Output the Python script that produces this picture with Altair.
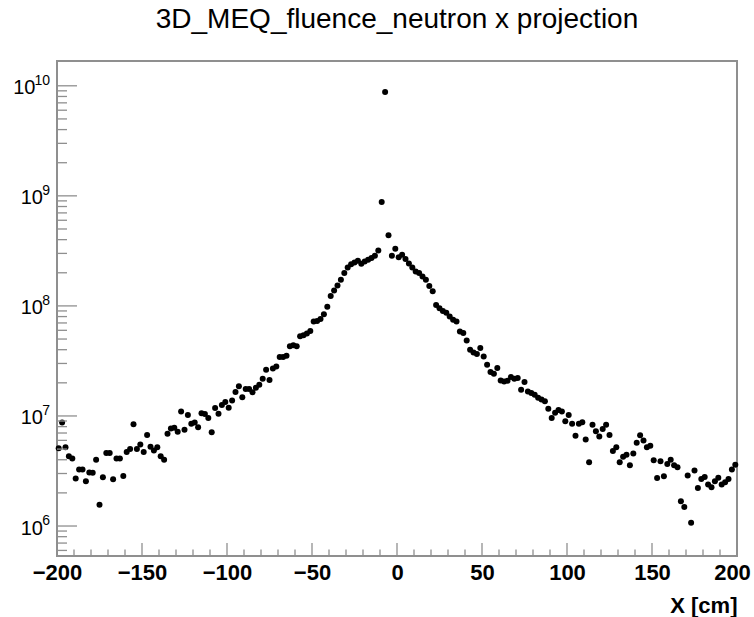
import altair as alt
import pandas as pd

# ---------------- data ----------------
title_text = "3D_MEQ_fluence_neutron x projection"
x_title = "X [cm]"

# 200 bins of 2 cm between -200 and 200 cm (bin centres)
bin_centres = list(range(-199, 200, 2))

fluence = [
    5.1e6, 8.7e6, 5.2e6, 4.3e6, 4.1e6, 2.7e6, 3.26e6, 3.26e6, 2.55e6, 3.07e6,
    3.04e6, 4.0e6, 1.56e6, 2.77e6, 4.6e6, 4.6e6, 2.66e6, 4.1e6, 4.1e6, 2.85e6,
    4.7e6, 5.0e6, 8.4e6, 5.0e6, 5.5e6, 4.7e6, 6.7e6, 5.25e6, 4.85e6, 5.2e6,
    4.3e6, 4.0e6, 6.9e6, 7.7e6, 7.8e6, 7.2e6, 1.1e7, 7.5e6, 1.02e7, 8.5e6,
    8.7e6, 7.9e6, 1.06e7, 1.04e7, 9.6e6, 7.1e6, 1.18e7, 1.05e7, 1.26e7, 1.34e7,
    1.19e7, 1.38e7, 1.65e7, 1.86e7, 1.48e7, 1.76e7, 1.76e7, 1.64e7, 1.8e7, 1.92e7,
    2.18e7, 2.63e7, 2.12e7, 2.7e7, 2.82e7, 3.43e7, 3.43e7, 3.52e7, 4.3e7, 4.4e7,
    4.3e7, 5.3e7, 5.4e7, 5.6e7, 5.9e7, 7.2e7, 7.3e7, 7.6e7, 8.4e7, 9.8e7,
    1.23e8, 1.38e8, 1.53e8, 1.73e8, 1.99e8, 2.23e8, 2.39e8, 2.48e8, 2.57e8, 2.41e8,
    2.53e8, 2.62e8, 2.72e8, 2.85e8, 3.18e8, 8.8e8, 8.8e9, 4.39e8, 2.85e8, 3.3e8,
    2.77e8, 2.92e8, 2.67e8, 2.43e8, 2.23e8, 2.05e8, 1.99e8, 1.85e8, 1.73e8, 1.52e8,
    1.36e8, 1.02e8, 9.5e7, 9.0e7, 8.65e7, 8.0e7, 7.5e7, 7.2e7, 5.86e7, 5.66e7,
    4.85e7, 4.0e7, 3.77e7, 3.65e7, 4.14e7, 3.47e7, 2.92e7, 2.51e7, 2.42e7, 2.73e7,
    2.1e7, 2.06e7, 2.09e7, 2.26e7, 2.18e7, 2.21e7, 1.73e7, 2.04e7, 1.67e7, 1.62e7,
    1.56e7, 1.46e7, 1.41e7, 1.36e7, 1.16e7, 9.6e6, 1.07e7, 1.13e7, 1.1e7, 8.97e6,
    1.02e7, 8.5e6, 6.6e6, 8.5e6, 8.75e6, 6.1e6, 3.8e6, 8.3e6, 7.25e6, 6.5e6,
    7.6e6, 8.3e6, 6.7e6, 4.8e6, 5.2e6, 3.8e6, 4.25e6, 4.45e6, 3.56e6, 4.55e6,
    5.7e6, 6.67e6, 5.97e6, 5.19e6, 5.37e6, 3.95e6, 2.73e6, 3.87e6, 2.83e6, 3.66e6,
    4.0e6, 3.56e6, 3.42e6, 1.68e6, 1.49e6, 2.87e6, 1.07e6, 3.2e6, 2.22e6, 2.68e6,
    2.79e6, 2.38e6, 2.25e6, 2.55e6, 2.74e6, 2.38e6, 2.5e6, 2.68e6, 3.26e6, 3.6e6,
]

x_major_ticks = [-200, -150, -100, -50, 0, 50, 100, 150, 200]
x_minor_ticks = [-190, -180, -170, -160, -140, -130, -120, -110,
                 -90, -80, -70, -60, -40, -30, -20, -10,
                 10, 20, 30, 40, 60, 70, 80, 90,
                 110, 120, 130, 140, 160, 170, 180, 190]
y_major_ticks = [1e6, 1e7, 1e8, 1e9, 1e10]
y_exponents = ["6", "7", "8", "9", "10"]
y_minor_ticks = [6e5, 7e5, 8e5, 9e5,
                 2e6, 3e6, 4e6, 5e6, 6e6, 7e6, 8e6, 9e6,
                 2e7, 3e7, 4e7, 5e7, 6e7, 7e7, 8e7, 9e7,
                 2e8, 3e8, 4e8, 5e8, 6e8, 7e8, 8e8, 9e8,
                 2e9, 3e9, 4e9, 5e9, 6e9, 7e9, 8e9, 9e9]

x_domain = [-200, 200]
y_domain = [5.34e5, 1.68e10]

# ---------------- chart ----------------
W, H = 680, 495
FONT = "Liberation Sans"
FRAME = "#8f8f8f"

df = pd.DataFrame({"x": bin_centres, "y": fluence})
xs = alt.Scale(domain=x_domain, nice=False, zero=False)
ys = alt.Scale(type="log", domain=y_domain, nice=False)

points = alt.Chart(df).mark_circle(size=36, color="black", opacity=1).encode(
    x=alt.X("x:Q", scale=xs, axis=alt.Axis(
        values=x_major_ticks, format="d", ticks=False, tickSize=0, domain=False,
        grid=False, labelFont=FONT, labelFontSize=22, labelFontWeight="bold",
        labelColor="black", labelPadding=6, labelFlush=False, labelOverlap=False,
        labelOffset=alt.expr("datum.value > 190 ? -5 : 0"),
        title=x_title, titleFont=FONT, titleFontSize=22, titleFontWeight="bold",
        titleColor="black", titleX=W, titleY=56, titleAlign="right",
        titleBaseline="alphabetic")),
    y=alt.Y("y:Q", scale=ys, axis=alt.Axis(
        values=y_major_ticks, labelExpr="'10'", ticks=False, tickSize=0,
        domain=False, grid=False, labelFont=FONT, labelFontSize=20,
        labelColor="black", labelBaseline="middle", labelOffset=2,
        labelPadding=alt.expr("datum.value > 5e9 ? 22 : 14.5"),
        labelOverlap=False, title=None)),
)

exponents = alt.Chart(pd.DataFrame({"y": y_major_ticks, "e": y_exponents})).mark_text(
    font=FONT, fontSize=14, color="black", align="right", baseline="alphabetic",
    dy=-1).encode(
    y=alt.Y("y:Q", scale=ys),
    x=alt.value(-7),
    text="e:N")

xmaj = alt.Chart(pd.DataFrame({"x": x_major_ticks})).mark_rule(
    color=FRAME, strokeWidth=1.3).encode(
    x=alt.X("x:Q", scale=xs),
    y=alt.value(H), y2=alt.value(H - 13))
xmin = alt.Chart(pd.DataFrame({"x": x_minor_ticks})).mark_rule(
    color=FRAME, strokeWidth=1.3).encode(
    x=alt.X("x:Q", scale=xs),
    y=alt.value(H), y2=alt.value(H - 6.5))
ymaj = alt.Chart(pd.DataFrame({"y": y_major_ticks})).mark_rule(
    color=FRAME, strokeWidth=1.3).encode(
    y=alt.Y("y:Q", scale=ys),
    x=alt.value(0), x2=alt.value(20))
ymin = alt.Chart(pd.DataFrame({"y": y_minor_ticks})).mark_rule(
    color=FRAME, strokeWidth=1.3).encode(
    y=alt.Y("y:Q", scale=ys),
    x=alt.value(0), x2=alt.value(10))

chart = alt.layer(points, xmaj, xmin, ymaj, ymin, exponents).properties(
    width=W, height=H,
    autosize=alt.AutoSizeParams(type="none"),
    padding={"left": 57, "top": 61, "right": 17, "bottom": 61},
    title=alt.TitleParams(title_text, font=FONT, fontSize=28, fontWeight="normal",
                          color="black", anchor="middle", frame="group",
                          baseline="alphabetic", offset=5),
    background="white",
).configure_view(stroke=FRAME, strokeWidth=2)

chart.save("out.html", embed_options={"renderer": "svg", "actions": False})
